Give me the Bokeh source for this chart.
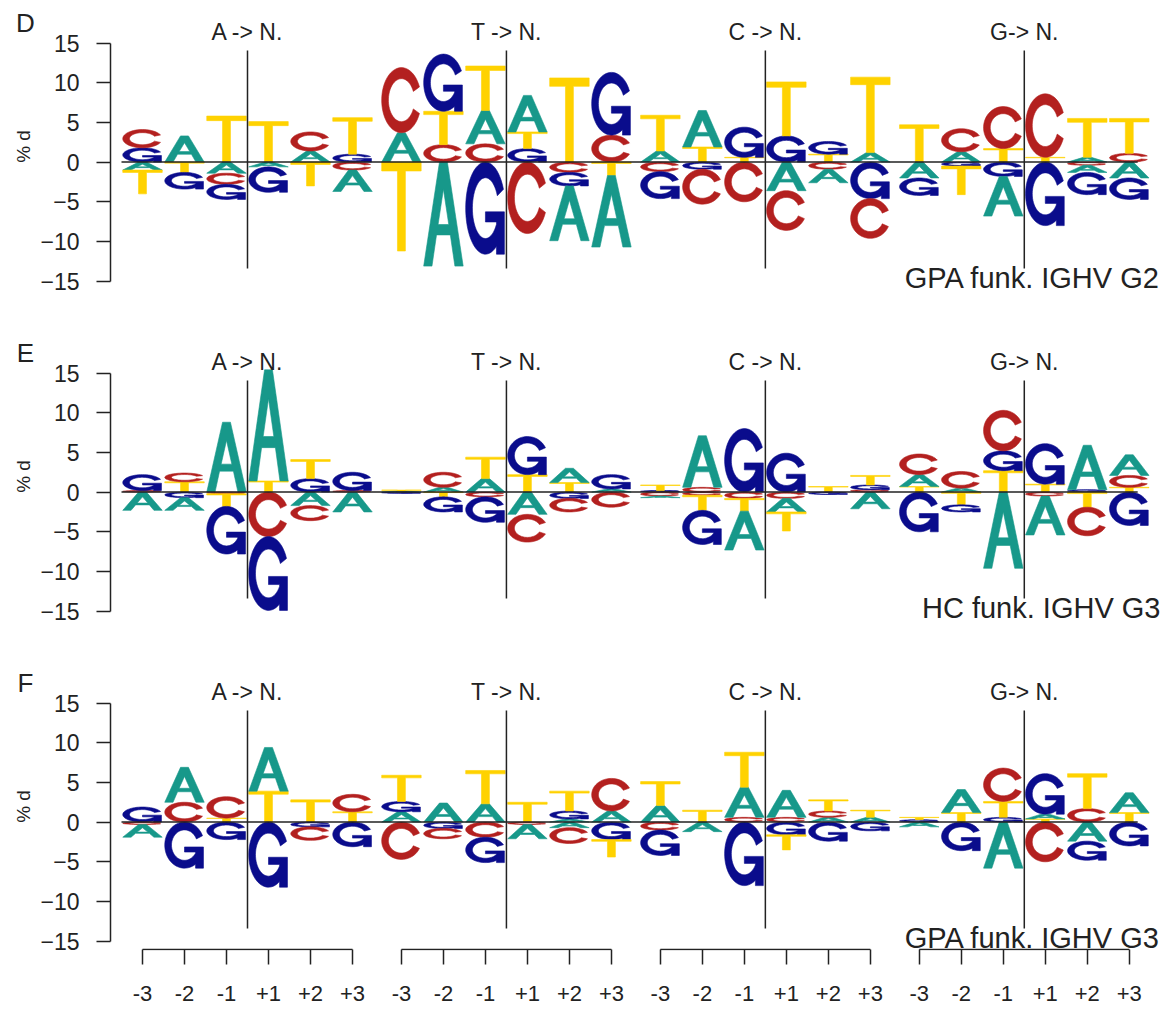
import numpy as np
from bokeh.plotting import figure
from bokeh.models import (Range1d, FixedTicker, LinearAxis,
                          CustomJSTickFormatter, ColumnDataSource)
from bokeh.layouts import column, row
from bokeh.embed import file_html
from bokeh.resources import INLINE
from bokeh.core.properties import value

# ---------------------------------------------------------------- data
PANELS = ["D", "E", "F"]
SUBTITLES = ["GPA funk. IGHV G2", "HC funk. IGHV G3", "GPA funk. IGHV G3"]
GROUPS = ["A -> N.", "T -> N.", "C -> N.", "G-> N."]
POSITIONS = ["-3", "-2", "-1", "+1", "+2", "+3"]
Y_TICKS = [-15, -10, -5, 0, 5, 10, 15]
Y_LABEL = "% d"

# stacks listed from the zero line outwards: (letter, % d)
D_UP = [
    [("G", 1.8), ("C", 2.3)], [("A", 3.3)], [("T", 5.8)],
    [("T", 5.1)], [("A", 1.4), ("C", 2.4)], [("G", 1.0), ("T", 4.6)],
    [("A", 3.7), ("C", 8.2)], [("C", 2.2), ("T", 4.2), ("G", 7.2)], [("C", 2.3), ("A", 4.2), ("T", 5.6)],
    [("G", 1.7), ("T", 2.1), ("A", 4.6)], [("T", 10.6)], [("C", 3.4), ("G", 7.9)],
    [("A", 1.4), ("T", 4.5)], [("T", 1.9), ("A", 4.6)], [("T", 0.6), ("G", 3.8)],
    [("G", 3.3), ("T", 6.8)], [("T", 1.0), ("G", 1.6)], [("A", 1.2), ("T", 9.5)],
    [("T", 4.7)], [("A", 1.3), ("C", 2.9)], [("T", 1.7), ("C", 5.3)],
    [("T", 0.6), ("C", 8.0)], [("A", 0.6), ("T", 4.9)], [("C", 1.1), ("T", 4.4)],
]
D_DOWN = [
    [("A", 1.0), ("T", 3.0)], [("T", 1.3), ("G", 2.1)], [("A", 1.4), ("C", 1.4), ("G", 1.9)],
    [("A", 0.6), ("G", 3.2)], [("T", 3.0)], [("C", 1.0), ("A", 2.7)],
    [("T", 11.2)], [("A", 13.1)], [("G", 11.6)],
    [("C", 9.0)], [("C", 1.3), ("G", 1.7), ("A", 6.9)], [("T", 1.7), ("A", 9.0)],
    [("C", 1.2), ("G", 3.4)], [("G", 0.9), ("C", 4.4)], [("C", 5.0)],
    [("A", 3.6), ("C", 5.0)], [("C", 0.9), ("A", 1.7)], [("G", 4.6), ("C", 5.0)],
    [("A", 2.0), ("G", 2.2)], [("G", 0.5), ("T", 3.6)], [("G", 1.8), ("A", 5.0)],
    [("G", 8.0)], [("C", 0.4), ("A", 0.9), ("G", 2.8)], [("A", 2.0), ("G", 2.7)],
]
E_UP = [
    [("C", 0.2), ("G", 2.0)], [("T", 1.3), ("C", 1.1)], [("A", 8.8)],
    [("T", 1.4), ("A", 14.0)], [("G", 1.7), ("T", 2.4)], [("C", 0.2), ("G", 2.3)],
    [("A", 0.15), ("T", 0.1)], [("A", 0.6), ("C", 1.9)], [("A", 1.7), ("T", 2.7)],
    [("T", 2.2), ("G", 4.8)], [("T", 1.2), ("A", 1.8)], [("A", 0.4), ("G", 1.8)],
    [("G", 0.2), ("T", 0.7)], [("C", 0.6), ("A", 6.5)], [("G", 8.0)],
    [("G", 4.9)], [("T", 0.7)], [("C", 0.3), ("G", 0.6), ("T", 1.2)],
    [("T", 0.7), ("A", 1.5), ("C", 2.6)], [("A", 0.5), ("C", 2.1)], [("T", 2.7), ("G", 2.5), ("C", 5.1)],
    [("T", 1.0), ("G", 5.1)], [("G", 0.3), ("A", 5.6)], [("T", 0.6), ("C", 1.5), ("A", 2.6)],
]
E_DOWN = [
    [("A", 2.3)], [("G", 0.7), ("A", 1.6)], [("C", 0.2), ("T", 1.6), ("G", 6.0)],
    [("C", 5.6), ("G", 9.3)], [("A", 1.7), ("C", 1.9)], [("A", 2.5)],
    [("G", 0.15)], [("T", 0.6), ("G", 1.9)], [("C", 0.6), ("G", 3.2)],
    [("A", 2.8), ("C", 3.5)], [("G", 0.8), ("C", 1.7)], [("C", 1.9)],
    [("C", 0.5), ("A", 0.2)], [("C", 0.4), ("T", 1.9), ("G", 4.3)], [("C", 0.8), ("T", 1.6), ("A", 4.9)],
    [("C", 0.8), ("A", 1.7), ("T", 2.4)], [("G", 0.3)], [("A", 2.1)],
    [("G", 5.0)], [("T", 1.6), ("G", 0.9)], [("A", 9.6)],
    [("C", 0.5), ("A", 4.9)], [("T", 1.9), ("C", 3.6)], [("G", 4.2)],
]
F_UP = [
    [("G", 1.9)], [("C", 2.5), ("A", 4.4)], [("T", 0.5), ("C", 2.7)],
    [("T", 3.9), ("A", 5.5)], [("T", 2.8)], [("T", 1.3), ("C", 2.2)],
    [("A", 1.3), ("G", 1.3), ("T", 3.3)], [("A", 2.4)], [("A", 2.3), ("T", 4.2)],
    [("T", 2.5)], [("A", 0.4), ("G", 1.0), ("T", 2.5)], [("A", 1.4), ("C", 4.1)],
    [("A", 2.1), ("T", 3.0)], [("T", 1.5)], [("C", 0.6), ("A", 3.8), ("T", 4.4)],
    [("C", 0.6), ("A", 3.4)], [("A", 0.6), ("C", 0.8), ("T", 1.4)], [("A", 0.6), ("T", 0.9)],
    [("G", 0.3), ("T", 0.3)], [("T", 1.2), ("A", 2.9)], [("G", 0.6), ("T", 2.0), ("C", 4.2)],
    [("T", 0.4), ("A", 0.6), ("G", 5.1)], [("C", 1.7), ("T", 4.4)], [("T", 1.2), ("A", 2.5)],
]
F_DOWN = [
    [("C", 0.3), ("A", 1.6)], [("G", 5.8)], [("G", 2.2)],
    [("G", 8.2)], [("G", 0.6), ("C", 1.7)], [("G", 3.1)],
    [("C", 4.7)], [("G", 0.8), ("C", 1.3)], [("C", 1.9), ("G", 3.2)],
    [("C", 0.3), ("A", 1.8)], [("A", 0.7), ("C", 2.0)], [("G", 2.2), ("T", 2.2)],
    [("C", 1.0), ("G", 3.2)], [("A", 1.2)], [("G", 8.0)],
    [("G", 1.6), ("T", 1.9)], [("G", 2.4)], [("G", 1.1)],
    [("A", 0.6)], [("G", 3.6)], [("A", 5.8)],
    [("C", 5.0)], [("A", 2.4), ("G", 2.4)], [("G", 3.0)],
]

UPS = [D_UP, E_UP, F_UP]
DOWNS = [D_DOWN, E_DOWN, F_DOWN]

COLORS = {"A": "#17988A", "C": "#B3201F", "G": "#0A0C8C", "T": "#FFD200"}
INK = "#222222"
FONT = "Liberation Sans"

# ---------------------------------------------------------------- layout
TOTAL_W = 1173
TOTAL_H = 1011
SIDE_W = 37            # narrow strip holding panel letters and y title
AXIS_B = 70            # left border of each panel (holds the y axis)
LEFT_PX = 110          # frame start used for the x mapping (page coordinates)
UNIT_PX = 42.0         # one logo position
FIRST_PX = 142.0       # centre of the first position
GROUP_STRIDE = 6.165   # distance between groups, in positions
X_START = -(FIRST_PX - LEFT_PX) / UNIT_PX
X_END = X_START + (TOTAL_W - LEFT_PX) / UNIT_PX
PX_PER_Y = 7.94
TOP15_PX = 42.5
LETTER_W = 0.94
PANEL_TOPS = [0, 330, 660]
PANEL_H = [330, 330, 351]
FRAME_H = [330, 330, 290]
BOTTOM_B = [0, 0, 61]


def px_x(px):
    return X_START + (px - LEFT_PX) / UNIT_PX


def px_y(py):
    return 15 - (py - TOP15_PX) / PX_PER_Y


# ---------------------------------------------------------------- glyph shapes (unit box)
def arc(r, a0, a1, n=48):
    a = np.linspace(a0, a1, n)
    return 0.5 + r * np.cos(a), 0.5 + r * np.sin(a)


R_OUT, R_IN, GAP = 0.5, 0.33, 0.42


def shape_c():
    ox, oy = arc(R_OUT, GAP, 2 * np.pi - GAP)
    ix, iy = arc(R_IN, 2 * np.pi - GAP, GAP)
    return [[(np.concatenate([ox, ix]), np.concatenate([oy, iy]))]]


def shape_g():
    stem_l, stem_r, bar_top, bar_h = 0.78, 0.98, 0.46, 0.11
    ab = 2 * np.pi - np.arccos((stem_l - 0.5) / R_OUT)
    ox, oy = arc(R_OUT, GAP, ab)
    ai = 2 * np.pi - np.arccos((stem_l - 0.5) / R_IN)
    ix, iy = arc(R_IN, ai, GAP)
    mx = [stem_l, stem_r, stem_r, 0.5, 0.5, stem_l]
    my = [0.0, 0.0, bar_top, bar_top, bar_top - bar_h, bar_top - bar_h]
    return [[(np.concatenate([ox, mx, ix]), np.concatenate([oy, my, iy]))]]


def shape_a():
    outer = (np.array([0, 0.4, 0.6, 1, 0.79, 0.675, 0.325, 0.21]),
             np.array([0, 1, 1, 0, 0, 0.3, 0.3, 0]))
    hole = (np.array([0.365, 0.5, 0.635]), np.array([0.4, 0.74, 0.4]))
    return [[outer, hole]]


def shape_t():
    return [[(np.array([0, 1, 1, 0.6, 0.6, 0.4, 0.4, 0]),
              np.array([1, 1, 0.9, 0.9, 0, 0, 0.9, 0.9]))]]


SHAPES = {"A": shape_a(), "C": shape_c(), "G": shape_g(), "T": shape_t()}


def place(letter, x0, y0, w, h):
    xs, ys = [], []
    for poly in SHAPES[letter]:
        pxs, pys = [], []
        for rx, ry in poly:
            pxs.append((x0 + rx * w).tolist())
            pys.append((y0 + ry * h).tolist())
        xs.append(pxs)
        ys.append(pys)
    return xs, ys


def centre(g, i):
    return g * GROUP_STRIDE + i


# ---------------------------------------------------------------- panels
def make_panel(idx):
    up, down = UPS[idx], DOWNS[idx]
    p = figure(width=TOTAL_W - SIDE_W, height=PANEL_H[idx],
               x_range=Range1d(X_START, X_END),
               y_range=Range1d(px_y(FRAME_H[idx]), px_y(0)),
               output_backend="svg", toolbar_location=None,
               x_axis_type=None, y_axis_type=None,
               min_border_left=AXIS_B, min_border_right=0,
               min_border_top=0, min_border_bottom=BOTTOM_B[idx],
               outline_line_color=None, background_fill_color="white",
               border_fill_color="white")
    p.grid.visible = False

    yax = LinearAxis(ticker=FixedTicker(ticks=Y_TICKS), bounds=(-15, 15))
    yax.axis_line_color = INK
    yax.axis_line_width = 1.5
    yax.major_tick_line_color = INK
    yax.major_tick_line_width = 1.5
    yax.major_tick_out = 14
    yax.major_tick_in = 0
    yax.minor_tick_out = 0
    yax.minor_tick_in = 0
    yax.major_label_standoff = 17
    yax.major_label_text_font = FONT
    yax.major_label_text_font_size = "23px"
    yax.major_label_text_color = INK
    p.add_layout(yax, "left")

    xs, ys, cols = [], [], []
    for g in range(len(GROUPS)):
        for i in range(len(POSITIONS)):
            k = g * len(POSITIONS) + i
            x0 = centre(g, i) - LETTER_W / 2
            base = 0.0
            for letter, h in up[k]:
                a, b = place(letter, x0, base, LETTER_W, h)
                xs.append(a); ys.append(b); cols.append(COLORS[letter])
                base += h
            base = 0.0
            for letter, h in down[k]:
                a, b = place(letter, x0, base - h, LETTER_W, h)
                xs.append(a); ys.append(b); cols.append(COLORS[letter])
                base -= h
    src = ColumnDataSource(dict(xs=xs, ys=ys, color=cols))
    p.multi_polygons(xs="xs", ys="ys", fill_color="color", line_color="color",
                     line_width=0.6, source=src)

    # zero line and group dividers
    last = centre(len(GROUPS) - 1, len(POSITIONS) - 1)
    p.line(x=[centre(0, 0) - 0.5, last + 0.2], y=[0, 0], line_color=INK, line_width=1.5)
    div_x = [centre(g, 2.5) for g in range(len(GROUPS))]
    p.segment(x0=div_x, x1=div_x, y0=[px_y(50)] * 4, y1=[px_y(268)] * 4,
              line_color=INK, line_width=1.5)

    p.text(x=div_x, y=[px_y(31)] * 4, text=GROUPS, text_font=value(FONT),
           text_font_size=value("23px"), text_color=INK,
           text_align="center", text_baseline="middle")
    p.text(x=[px_x(1160)], y=[px_y(277)], text=[SUBTITLES[idx]], text_font=value(FONT),
           text_font_size=value("29px"), text_color=INK,
           text_align="right", text_baseline="middle")
    return p


pD = make_panel(0)
pE = make_panel(1)
pF = make_panel(2)

# bracket axis under the last panel
ticks = [centre(g, i) for g in range(len(GROUPS)) for i in range(len(POSITIONS))]
yb = px_y(FRAME_H[2]) + 1.0 / PX_PER_Y
pF.segment(x0=[centre(g, 0) for g in range(len(GROUPS))],
           x1=[centre(g, len(POSITIONS) - 1) for g in range(len(GROUPS))],
           y0=[yb] * 4, y1=[yb] * 4, line_color=INK, line_width=1.5)
xax = LinearAxis(ticker=FixedTicker(ticks=ticks),
                 formatter=CustomJSTickFormatter(args=dict(labels=POSITIONS),
                                                 code="return labels[index % labels.length];"))
xax.axis_line_color = None
xax.major_tick_line_color = INK
xax.major_tick_line_width = 1.5
xax.major_tick_out = 14
xax.major_tick_in = 1
xax.minor_tick_out = 0
xax.minor_tick_in = 0
xax.major_label_standoff = 21
xax.major_label_text_font = FONT
xax.major_label_text_font_size = "22px"
xax.major_label_text_color = INK
pF.add_layout(xax, "below")

# side strip: panel letters and the y-axis title, in page pixels
side = figure(width=SIDE_W, height=TOTAL_H, x_range=Range1d(0, SIDE_W),
              y_range=Range1d(0, TOTAL_H), output_backend="svg",
              toolbar_location=None, x_axis_type=None, y_axis_type=None,
              min_border=0, outline_line_color=None,
              background_fill_color="white", border_fill_color="white")
side.grid.visible = False
side.text(x=[25] * 3, y=[TOTAL_H - (t + 22) for t in PANEL_TOPS], text=PANELS,
          text_font=value(FONT), text_font_size=value("26px"), text_color=INK,
          text_align="center", text_baseline="middle")
side.text(x=[23] * 3, y=[TOTAL_H - (t + 146) for t in PANEL_TOPS], text=[Y_LABEL] * 3,
          text_font=value(FONT), text_font_size=value("19px"), text_color=INK,
          angle=np.pi / 2, text_align="center", text_baseline="middle")

layout = row(side, column(pD, pE, pF, spacing=0), spacing=0)
open("out.html", "w").write(file_html(layout, INLINE))
